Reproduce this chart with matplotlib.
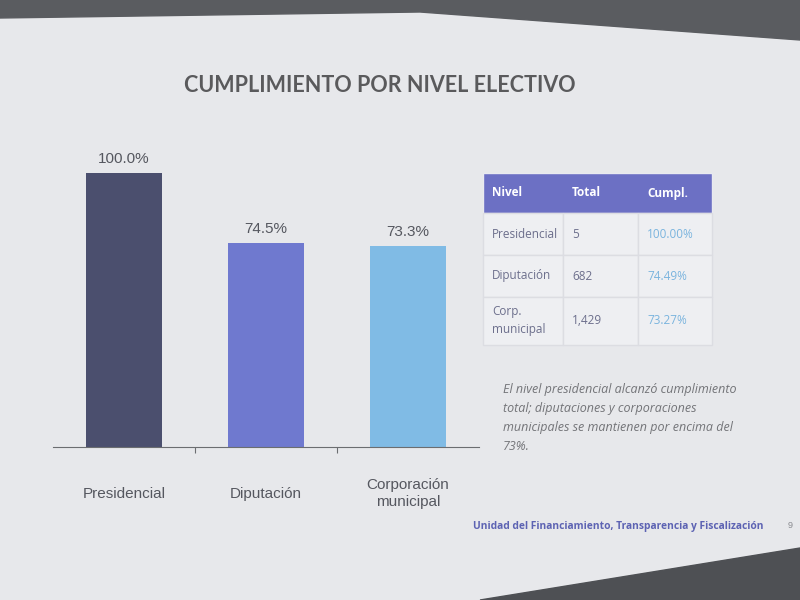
import matplotlib.pyplot as plt
from matplotlib.patches import Rectangle, Polygon

# data
niveles = ['Presidencial', 'Diputación', 'Corporación\nmunicipal']
cumplimiento = [100.0, 74.5, 73.3]
bar_colors = ['#4b4f6e', '#6f79cf', '#80bbe5']

tabla_header = ['Nivel', 'Total', 'Cumpl.']
tabla_nivel = ['Presidencial', 'Diputación', 'Corp.\nmunicipal']
tabla_total = ['5', '682', '1,429']
tabla_cumpl = ['100.00%', '74.49%', '73.27%']

nota = ('El nivel presidencial alcanzó cumplimiento\n'
        'total; diputaciones y corporaciones\n'
        'municipales se mantienen por encima del\n'
        '73%.')
footer = 'Unidad del Financiamiento, Transparencia y Fiscalización'

plt.rcParams['font.family'] = ['Liberation Sans', 'DejaVu Sans']

fig = plt.figure(figsize=(8, 6), dpi=100)
fig.patch.set_facecolor('#e7e8eb')

# overlay axes in pixel coordinates for slide decoration
ov = fig.add_axes([0, 0, 1, 1], zorder=0)
ov.set_xlim(0, 800)
ov.set_ylim(600, 0)
ov.axis('off')
ov.add_patch(Polygon([(0, 0), (800, 0), (800, 40), (420, 12), (0, 18)],
                     closed=True, color='#5a5c60'))
ov.add_patch(Polygon([(480, 600), (800, 548), (800, 600)],
                     closed=True, color='#4e5054'))

ov.text(380, 85, 'CUMPLIMIENTO POR NIVEL ELECTIVO', ha='center', va='center',
        fontsize=15.5, fontweight='bold', color='#5a5a5c', family=['Lato', 'DejaVu Sans'])

# table
col_x = [483, 563, 638, 712]
row_y = [173, 213, 255, 297, 345]
ov.add_patch(Rectangle((col_x[0], row_y[0]), col_x[-1] - col_x[0], row_y[1] - row_y[0],
                       facecolor='#6c70c4', edgecolor='#e9eaf0', lw=1))
for j, h in enumerate(tabla_header):
    ov.text(col_x[j] + 9, (row_y[0] + row_y[1]) / 2, h, ha='left', va='center',
            fontsize=8.5, fontweight='bold', color='white', family=['Open Sans', 'DejaVu Sans'])
for i in range(3):
    for j in range(3):
        ov.add_patch(Rectangle((col_x[j], row_y[i + 1]), col_x[j + 1] - col_x[j],
                               row_y[i + 2] - row_y[i + 1],
                               facecolor='#eeeff2', edgecolor='#dcdde2', lw=1))
    yc = (row_y[i + 1] + row_y[i + 2]) / 2
    ov.text(col_x[0] + 9, yc, tabla_nivel[i], ha='left', va='center', fontsize=8.5,
            color='#6c6f8c', linespacing=1.5, family=['Open Sans', 'DejaVu Sans'])
    ov.text(col_x[1] + 9, yc, tabla_total[i], ha='left', va='center', fontsize=8.5,
            color='#6c6f8c', family=['Open Sans', 'DejaVu Sans'])
    ov.text(col_x[2] + 9, yc, tabla_cumpl[i], ha='left', va='center', fontsize=8.5,
            color='#7ab4de', family=['Open Sans', 'DejaVu Sans'])

ov.text(503, 383, nota, ha='left', va='top', fontsize=9, style='italic',
        color='#737478', linespacing=1.6, family=['Open Sans', 'DejaVu Sans'])

ov.text(473, 527, footer, ha='left', va='center', fontsize=7.4, fontweight='bold',
        color='#5d63b3', family=['Open Sans', 'DejaVu Sans'])
ov.text(790, 525, '9', ha='center', va='center', fontsize=6.5, color='#8a8b90')

# bar chart
ax = fig.add_axes([53 / 800, 1 - 447 / 600, 426 / 800, 307 / 600], zorder=1)
ax.patch.set_alpha(0)
x = range(len(niveles))
bars = ax.bar(x, cumplimiento, width=0.53, color=bar_colors)
ax.set_xlim(-0.5, 2.5)
ax.set_ylim(0, 112)
for b, v in zip(bars, cumplimiento):
    ax.text(b.get_x() + b.get_width() / 2, v + 2.5, f'{v:.1f}%', ha='center', va='bottom',
            fontsize=11, color='#55575f')
for s in ['top', 'right', 'left']:
    ax.spines[s].set_visible(False)
ax.spines['bottom'].set_color('#6b6d70')
ax.set_yticks([])
ax.set_xticks([0.5, 1.5], minor=False)
ax.set_xticklabels([])
ax.tick_params(axis='x', length=4, color='#6b6d70', direction='out')
for i, n in enumerate(niveles):
    ax.text(i, -17, n, ha='center', va='center', fontsize=11, color='#55575f',
            linespacing=1.2)

fig.savefig('out.png', dpi=100, facecolor=fig.get_facecolor())
